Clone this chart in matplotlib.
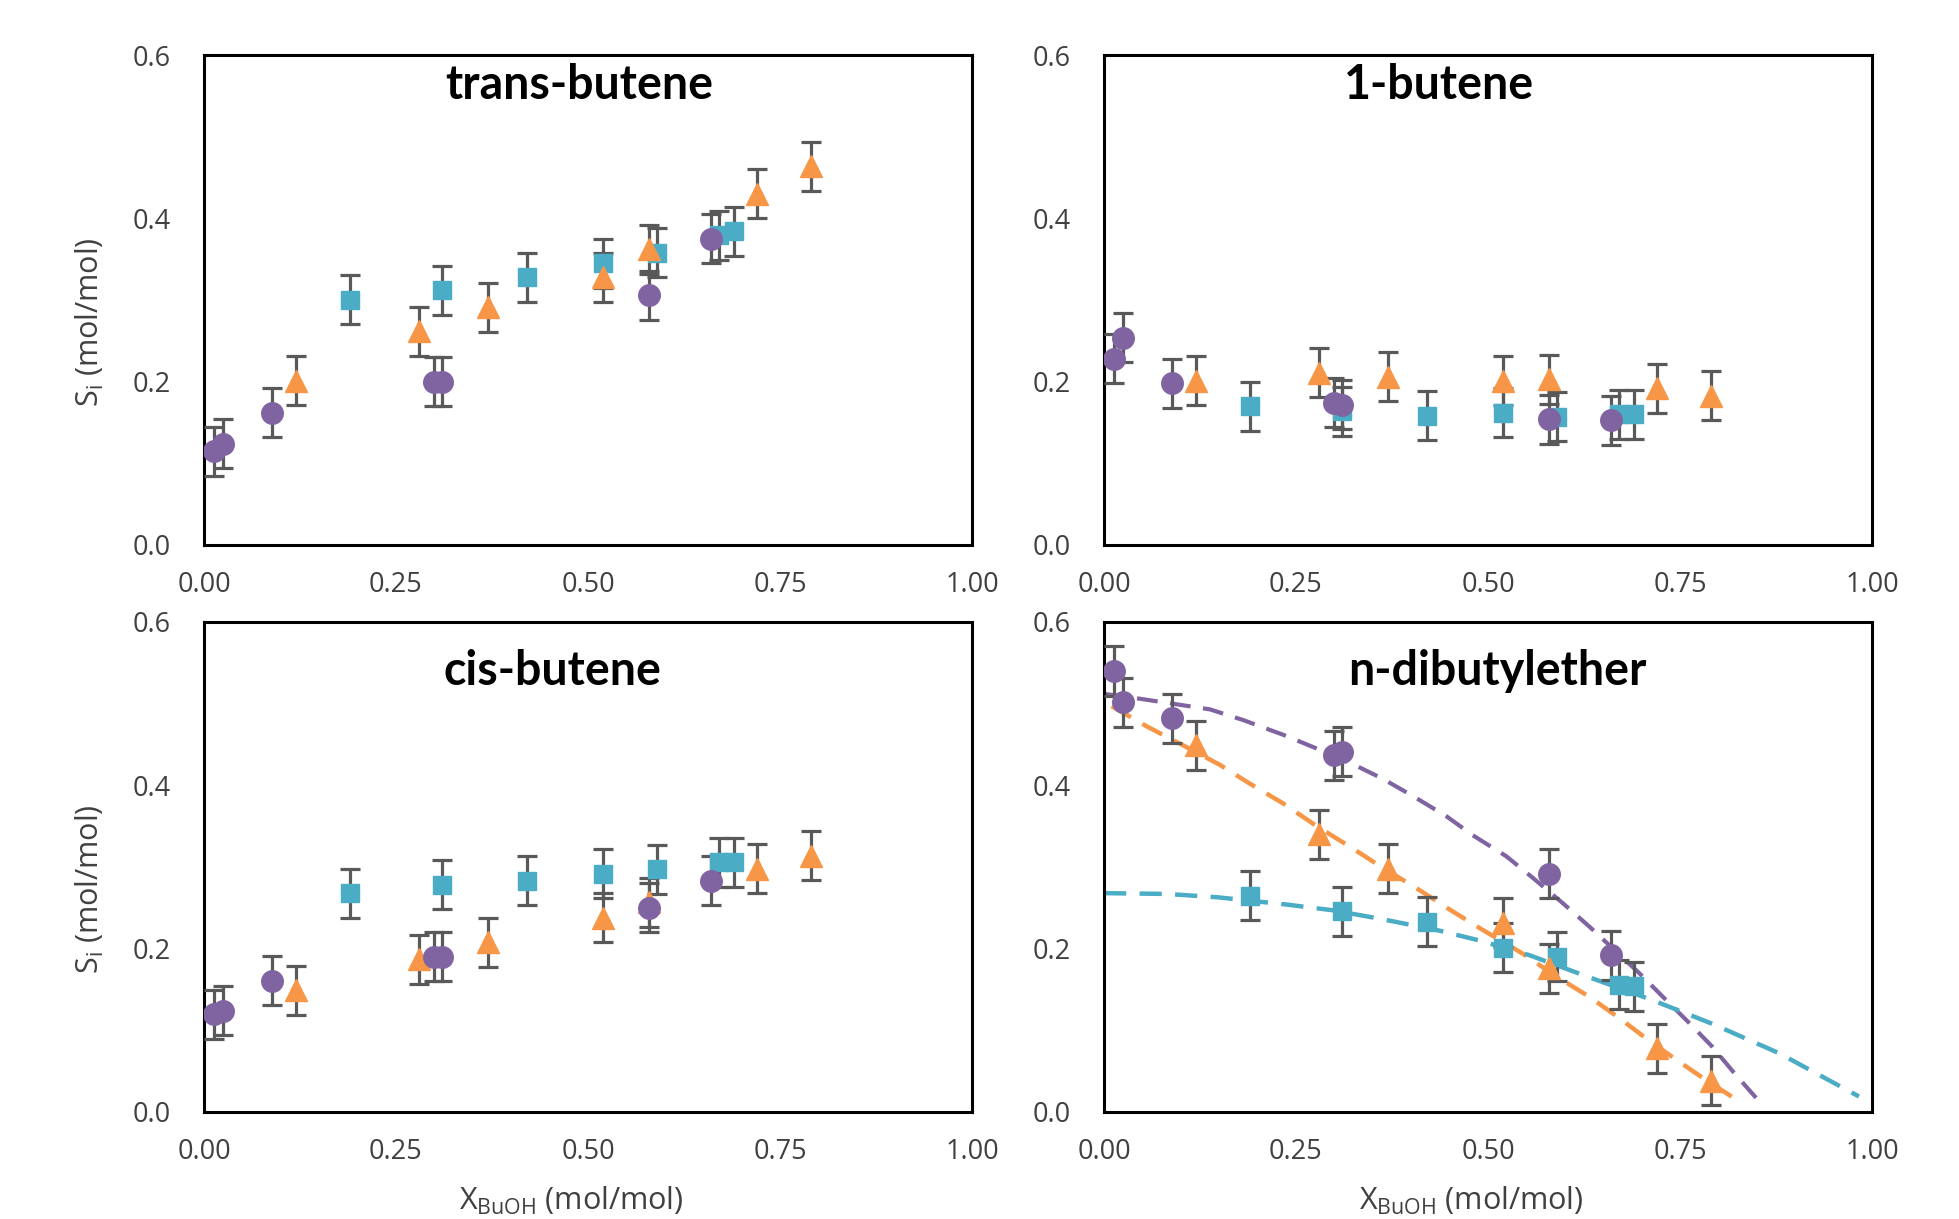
import matplotlib
matplotlib.use("Agg")
import matplotlib.pyplot as plt

# ---------- data ----------
x_purple = [0.013, 0.025, 0.088, 0.30, 0.31, 0.58, 0.66]
x_orange = [0.12, 0.28, 0.37, 0.52, 0.58, 0.72, 0.79]
x_teal = [0.19, 0.31, 0.42, 0.52, 0.59, 0.67, 0.69]

trans_purple = [0.115, 0.124, 0.162, 0.200, 0.200, 0.306, 0.375]
trans_orange = [0.201, 0.262, 0.291, 0.328, 0.362, 0.430, 0.464]
trans_teal = [0.300, 0.312, 0.328, 0.345, 0.358, 0.379, 0.384]

but1_purple = [0.228, 0.254, 0.198, 0.174, 0.172, 0.154, 0.153]
but1_orange = [0.201, 0.211, 0.206, 0.201, 0.203, 0.192, 0.183]
but1_teal = [0.170, 0.164, 0.158, 0.162, 0.157, 0.160, 0.160]

cis_purple = [0.120, 0.124, 0.161, 0.190, 0.190, 0.250, 0.283]
cis_orange = [0.149, 0.187, 0.208, 0.238, 0.257, 0.298, 0.314]
cis_teal = [0.268, 0.278, 0.283, 0.292, 0.297, 0.306, 0.306]

dbe_purple = [0.540, 0.502, 0.482, 0.437, 0.441, 0.292, 0.192]
dbe_orange = [0.449, 0.340, 0.298, 0.232, 0.176, 0.078, 0.038]
dbe_teal = [0.265, 0.246, 0.233, 0.201, 0.190, 0.156, 0.154]

err_val = 0.03

# model curves in the n-dibutylether panel
fit_purple_x = [0.0, 0.047, 0.138, 0.181, 0.233, 0.272, 0.324, 0.363, 0.402, 0.446,
                0.48, 0.524, 0.558, 0.597, 0.632, 0.697, 0.732, 0.762, 0.792, 0.823, 0.857]
fit_purple_y = [0.512, 0.506, 0.493, 0.480, 0.462, 0.447, 0.426, 0.408, 0.387, 0.362,
                0.339, 0.313, 0.287, 0.256, 0.227, 0.170, 0.137, 0.109, 0.080, 0.045, 0.009]
fit_orange_x = [0.010, 0.056, 0.103, 0.151, 0.190, 0.233, 0.277, 0.32, 0.363, 0.407,
                0.45, 0.493, 0.545, 0.589, 0.632, 0.671, 0.706, 0.745, 0.784, 0.827]
fit_orange_y = [0.497, 0.472, 0.449, 0.425, 0.402, 0.378, 0.350, 0.325, 0.299, 0.274,
                0.248, 0.223, 0.194, 0.166, 0.141, 0.115, 0.090, 0.064, 0.039, 0.013]
fit_teal_x = [0.0, 0.082, 0.147, 0.238, 0.298, 0.363, 0.437, 0.489, 0.554, 0.623,
              0.714, 0.792, 0.879, 0.983]
fit_teal_y = [0.268, 0.267, 0.263, 0.254, 0.247, 0.236, 0.222, 0.210, 0.192, 0.168,
              0.137, 0.108, 0.072, 0.019]

titles = ["trans-butene", "1-butene", "cis-butene", "n-dibutylether"]
title_pos = [(0.489, 0.938), (0.436, 0.938), (0.454, 0.90), (0.512, 0.90)]
x_ticks = [0.0, 0.25, 0.5, 0.75, 1.0]
y_ticks = [0.0, 0.2, 0.4, 0.6]

# ---------- style ----------
c_purple = "#8064A2"
c_orange = "#F79646"
c_teal = "#4BACC6"
c_err = "#595959"
c_text = "#404040"

plt.rcParams["font.family"] = ["Open Sans", "DejaVu Sans"]
plt.rcParams["mathtext.fontset"] = "custom"
plt.rcParams["mathtext.rm"] = "Open Sans"
plt.rcParams["mathtext.it"] = "Open Sans"

fig = plt.figure(figsize=(19.59, 12.19), dpi=100)
W, H = 1959, 1219
boxes = [(204, 55), (1104, 55), (204, 622), (1104, 622)]
ax_w, ax_h = 768, 490

panels = [
    (trans_purple, trans_orange, trans_teal),
    (but1_purple, but1_orange, but1_teal),
    (cis_purple, cis_orange, cis_teal),
    (dbe_purple, dbe_orange, dbe_teal),
]

for i, (left, top) in enumerate(boxes):
    ax = fig.add_axes([left / W, 1 - (top + ax_h) / H, ax_w / W, ax_h / H])
    yp, yo, yt = panels[i]

    if i == 3:
        dash = (0, (5, 3))
        ax.plot(fit_purple_x, fit_purple_y, color=c_purple, lw=3.0, ls=dash, zorder=2)
        ax.plot(fit_orange_x, fit_orange_y, color=c_orange, lw=3.2, ls=dash, zorder=2)
        ax.plot(fit_teal_x, fit_teal_y, color=c_teal, lw=3.2, ls=dash, zorder=2)

    for xs, ys, col, mk, ms in [
        (x_teal, yt, c_teal, "s", 13.5),
        (x_orange, yo, c_orange, "^", 15.5),
        (x_purple, yp, c_purple, "o", 15.5),
    ]:
        ax.errorbar(xs, ys, yerr=err_val, fmt="none", ecolor=c_err, elinewidth=2.3,
                    capsize=7, capthick=2.3, zorder=3)
        ax.plot(xs, ys, ls="none", marker=mk, ms=ms, color=col, mec=col, zorder=4)

    ax.set_xlim(0, 1)
    ax.set_ylim(0, 0.6)
    ax.set_xticks(x_ticks)
    ax.set_xticklabels(["%.2f" % v for v in x_ticks])
    ax.set_yticks(y_ticks)
    ax.set_yticklabels(["%.1f" % v for v in y_ticks])
    ax.tick_params(length=0, labelsize=19.5, colors=c_text)
    ax.tick_params(axis="y", pad=24)
    ax.tick_params(axis="x", pad=19)
    for sp in ax.spines.values():
        sp.set_linewidth(2.2)
        sp.set_color("black")
    tx, ty = title_pos[i]
    ax.text(tx, ty, titles[i], transform=ax.transAxes, ha="center", va="center",
            fontsize=33.5, fontweight="bold", family=["Lato", "DejaVu Sans"])

# y labels (left column)
for left, top in (boxes[0], boxes[2]):
    fig.text(90 / W, 1 - (top + ax_h / 2 + 22) / H, r"S$_{\mathrm{i}}$ (mol/mol)",
             rotation=90, ha="center", va="center", fontsize=22, color=c_text)

# x labels (bottom row), at the lower edge like the original
for left, top in (boxes[2], boxes[3]):
    fig.text((left + ax_w / 2 - 17) / W, 2 / H, r"X$_{\mathrm{BuOH}}$ (mol/mol)",
             ha="center", va="bottom", fontsize=22, color=c_text)

fig.savefig("out.png", dpi=100)
